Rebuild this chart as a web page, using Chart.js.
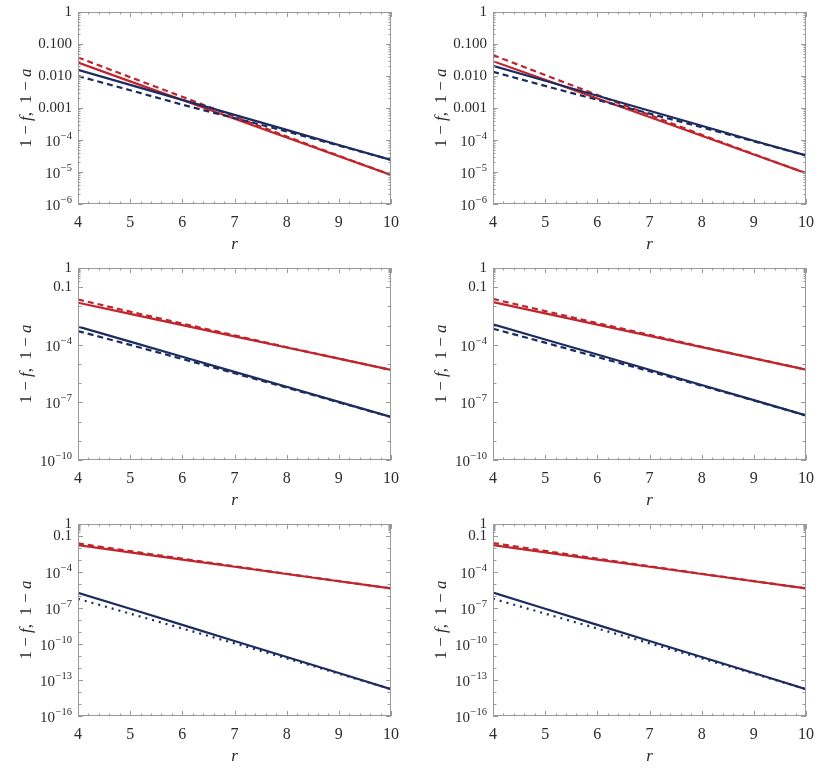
<!DOCTYPE html>
<html>
<head>
<meta charset="utf-8">
<script src="https://cdn.jsdelivr.net/npm/chart.js@4.4.1/dist/chart.umd.min.js"></script>
<style>
  body { margin: 0; background: #fff; }
  .panel { position: absolute; width: 415px; height: 257px; }
</style>
</head>
<body>
<div class="panel" style="left:0;top:0"><canvas id="c1" width="415" height="257"></canvas></div>
<div class="panel" style="left:415px;top:0"><canvas id="c2" width="415" height="257"></canvas></div>
<div class="panel" style="left:0;top:256px"><canvas id="c3" width="415" height="257"></canvas></div>
<div class="panel" style="left:415px;top:256px"><canvas id="c4" width="415" height="257"></canvas></div>
<div class="panel" style="left:0;top:512px"><canvas id="c5" width="415" height="257"></canvas></div>
<div class="panel" style="left:415px;top:512px"><canvas id="c6" width="415" height="257"></canvas></div>
<script>
var rValues = [4, 5, 6, 7, 8, 9, 10];
var xTickValues = [4, 5, 6, 7, 8, 9, 10];

// y tick values + labels, one set per row
var yTicksTop = [1, 0.1, 0.01, 0.001, 1e-4, 1e-5, 1e-6];
var yLabelsTop = ['1', '0.100', '0.010', '0.001', '10^-4', '10^-5', '10^-6'];
var yTicksMid = [1, 0.1, 1e-4, 1e-7, 1e-10];
var yLabelsMid = ['1', '0.1', '10^-4', '10^-7', '10^-10'];
var yTicksBot = [1, 0.1, 1e-4, 1e-7, 1e-10, 1e-13, 1e-16];
var yLabelsBot = ['1', '0.1', '10^-4', '10^-7', '10^-10', '10^-13', '10^-16'];

// panel 1 (top left)
var p1RedSolid   = [0.0263, 6.8e-3, 1.78e-3, 4.6e-4, 1.2e-4, 3.1e-5, 8.1e-6];
var p1RedDashed  = [0.038, 9.2e-3, 2.24e-3, 5.4e-4, 1.29e-4, 3.2e-5, 8.1e-6];
var p1BlueSolid  = [0.0156, 5.3e-3, 1.8e-3, 6.1e-4, 2.07e-4, 7.0e-5, 2.4e-5];
var p1BlueDashed = [0.010, 3.6e-3, 1.27e-3, 4.85e-4, 1.85e-4, 6.7e-5, 2.4e-5];

// panel 2 (top right)
var p2RedSolid   = [0.029, 7.6e-3, 1.98e-3, 5.2e-4, 1.35e-4, 3.5e-5, 9.2e-6];
var p2RedDashed  = [0.045, 0.0107, 2.55e-3, 6.1e-4, 1.45e-4, 3.6e-5, 9.2e-6];
var p2BlueSolid  = [0.0209, 7.1e-3, 2.42e-3, 8.2e-4, 2.8e-4, 9.5e-5, 3.3e-5];
var p2BlueDashed = [0.0135, 4.9e-3, 1.8e-3, 6.7e-4, 2.5e-4, 9.1e-5, 3.3e-5];

// panel 3 (middle left)
var p3RedSolid   = [0.0155, 4.05e-3, 1.05e-3, 2.75e-4, 7.2e-5, 1.9e-5, 4.9e-6];
var p3RedDashed  = [0.0229, 5.3e-3, 1.27e-3, 3.1e-4, 7.5e-5, 1.92e-5, 4.9e-6];
var p3BlueSolid  = [8.9e-4, 1.46e-4, 2.4e-5, 3.9e-6, 6.5e-7, 1.06e-7, 1.74e-8];
var p3BlueDashed = [5.2e-4, 9.9e-5, 1.82e-5, 3.3e-6, 5.9e-7, 1.01e-7, 1.74e-8];

// panel 4 (middle right)
var p4RedSolid   = [0.0166, 4.3e-3, 1.12e-3, 2.9e-4, 7.6e-5, 1.97e-5, 5.1e-6];
var p4RedDashed  = [0.0245, 5.7e-3, 1.35e-3, 3.3e-4, 7.9e-5, 2.0e-5, 5.1e-6];
var p4BlueSolid  = [1.17e-3, 1.9e-4, 3.1e-5, 5.0e-6, 8.1e-7, 1.32e-7, 2.1e-8];
var p4BlueDashed = [6.9e-4, 1.29e-4, 2.3e-5, 4.2e-6, 7.4e-7, 1.26e-7, 2.1e-8];

// panel 5 (bottom left)
var p5RedSolid   = [0.0174, 4.35e-3, 1.09e-3, 2.72e-4, 6.8e-5, 1.7e-5, 4.3e-6];
var p5RedDashed  = [0.024, 5.5e-3, 1.28e-3, 3.0e-4, 7.1e-5, 1.75e-5, 4.3e-6];
var p5BlueSolid  = [1.86e-6, 8.6e-8, 3.9e-9, 1.8e-10, 8.3e-12, 3.8e-13, 1.74e-14];
var p5BlueDotted = [5.8e-7, 3.4e-8, 1.96e-9, 1.14e-10, 6.3e-12, 3.4e-13, 1.74e-14];

// panel 6 (bottom right)
var p6RedSolid   = [0.0174, 4.35e-3, 1.09e-3, 2.72e-4, 6.8e-5, 1.7e-5, 4.3e-6];
var p6RedDashed  = [0.026, 5.7e-3, 1.3e-3, 3.0e-4, 7.1e-5, 1.75e-5, 4.3e-6];
var p6BlueSolid  = [1.9e-6, 8.7e-8, 3.95e-9, 1.8e-10, 8.3e-12, 3.8e-13, 1.74e-14];
var p6BlueDotted = [5.9e-7, 3.4e-8, 1.96e-9, 1.14e-10, 6.3e-12, 3.4e-13, 1.74e-14];

var RED = 'rgb(192,36,44)';
var BLUE = 'rgb(28,44,94)';
var FRAME = '#999999';
var TEXT = '#2b2b2b';
var SERIF = '"Liberation Serif", "DejaVu Serif", serif';

function pts(ys) {
  return rValues.map(function (r, i) { return { x: r, y: ys[i] }; });
}

// frame with inward ticks on all four sides, y labels and y title
var frameTicks = {
  id: 'frameTicks',
  afterDatasetsDraw: function (chart, args, o) {
    var ctx = chart.ctx, a = chart.chartArea;
    var xs = chart.scales.x, ys = chart.scales.y;
    ctx.save();
    ctx.strokeStyle = FRAME;
    ctx.lineWidth = 1;
    ctx.strokeRect(Math.round(a.left) + 0.5, Math.round(a.top) + 0.5,
      Math.round(a.right - a.left) - 1, Math.round(a.bottom - a.top) - 1);

    ctx.beginPath();
    // x ticks: integers + 0.2 minor
    for (var k = 0; k <= 30; k++) {
      var v = 4 + k * 0.2;
      var px = Math.round(xs.getPixelForValue(v)) + 0.5;
      var len = (k % 5 === 0) ? 5 : 2.5;
      ctx.moveTo(px, a.bottom); ctx.lineTo(px, a.bottom - len);
      ctx.moveTo(px, a.top); ctx.lineTo(px, a.top + len);
    }
    // y ticks
    for (var d = 0; d <= o.decades; d++) {
      var dv = Math.pow(10, -d);
      var labeled = o.ticks.some(function (t) { return Math.abs(Math.log10(t) + d) < 1e-9; });
      var py = Math.round(ys.getPixelForValue(dv)) + 0.5;
      var l = labeled ? 5 : 3.5;
      ctx.moveTo(a.left, py); ctx.lineTo(a.left + l, py);
      ctx.moveTo(a.right, py); ctx.lineTo(a.right - l, py);
      if (d < o.decades && (o.minorAll || d === 0)) {
        for (var m = 2; m <= 9; m++) {
          var mv = m * Math.pow(10, -d - 1);
          var mp = Math.round(ys.getPixelForValue(mv)) + 0.5;
          ctx.moveTo(a.left, mp); ctx.lineTo(a.left + 2.5, mp);
          ctx.moveTo(a.right, mp); ctx.lineTo(a.right - 2.5, mp);
        }
      }
    }
    ctx.stroke();

    // y tick labels
    ctx.fillStyle = TEXT;
    ctx.textBaseline = 'middle';
    o.ticks.forEach(function (t, i) {
      var lab = o.labels[i];
      var py = ys.getPixelForValue(t);
      var xr = a.left - 6;
      if (lab.indexOf('^') > 0) {
        var parts = lab.split('^');
        var exp = parts[1].replace('-', '\u2212');
        ctx.font = '10.5px ' + SERIF;
        var we = ctx.measureText(exp).width;
        ctx.textAlign = 'left';
        ctx.fillText(exp, xr - we, py - 4);
        ctx.font = '15px ' + SERIF;
        var wb = ctx.measureText(parts[0]).width;
        ctx.fillText(parts[0], xr - we - wb - 0.5, py + 2);
      } else {
        ctx.font = '15px ' + SERIF;
        ctx.textAlign = 'right';
        ctx.fillText(lab, xr, py);
      }
    });

    // y axis title "1 − f, 1 − a"
    var segs = [['1 \u2212 ', false], ['f', true], [',  1 \u2212 ', false], ['a', true]];
    ctx.translate(27, (a.top + a.bottom) / 2);
    ctx.rotate(-Math.PI / 2);
    var total = 0;
    segs.forEach(function (s) {
      ctx.font = (s[1] ? 'italic ' : '') + '17px ' + SERIF;
      total += ctx.measureText(s[0]).width;
    });
    var cx = -total / 2;
    ctx.textAlign = 'left';
    segs.forEach(function (s) {
      ctx.font = (s[1] ? 'italic ' : '') + '17px ' + SERIF;
      ctx.fillText(s[0], cx, 0);
      cx += ctx.measureText(s[0]).width;
    });
    ctx.restore();
  }
};

var panels = [
  { id: 'c1', decades: 6, ticks: yTicksTop, labels: yLabelsTop, minorAll: true,
    red: [p1RedSolid, p1RedDashed], blue: [p1BlueSolid, p1BlueDashed], blueDash: [6, 4] },
  { id: 'c2', decades: 6, ticks: yTicksTop, labels: yLabelsTop, minorAll: true,
    red: [p2RedSolid, p2RedDashed], blue: [p2BlueSolid, p2BlueDashed], blueDash: [6, 4] },
  { id: 'c3', decades: 10, ticks: yTicksMid, labels: yLabelsMid, minorAll: false,
    red: [p3RedSolid, p3RedDashed], blue: [p3BlueSolid, p3BlueDashed], blueDash: [6, 4] },
  { id: 'c4', decades: 10, ticks: yTicksMid, labels: yLabelsMid, minorAll: false,
    red: [p4RedSolid, p4RedDashed], blue: [p4BlueSolid, p4BlueDashed], blueDash: [6, 4] },
  { id: 'c5', decades: 16, ticks: yTicksBot, labels: yLabelsBot, minorAll: false,
    red: [p5RedSolid, p5RedDashed], blue: [p5BlueSolid, p5BlueDotted], blueDash: [2, 5] },
  { id: 'c6', decades: 16, ticks: yTicksBot, labels: yLabelsBot, minorAll: false,
    red: [p6RedSolid, p6RedDashed], blue: [p6BlueSolid, p6BlueDotted], blueDash: [2, 5] }
];

panels.forEach(function (p) {
  var line = function (ys, color, dash) {
    return { data: pts(ys), borderColor: color, borderWidth: 2.2, borderDash: dash || [],
      pointRadius: 0, tension: 0, fill: false };
  };
  new Chart(document.getElementById(p.id), {
    type: 'line',
    data: {
      datasets: [
        line(p.blue[0], BLUE), line(p.blue[1], BLUE, p.blueDash),
        line(p.red[0], RED), line(p.red[1], RED, [6, 4])
      ]
    },
    options: {
      responsive: false,
      animation: false,
      layout: { padding: { left: 0, top: 12, right: 24, bottom: 0 } },
      plugins: { legend: { display: false }, tooltip: { enabled: false },
        frameTicks: { decades: p.decades, ticks: p.ticks, labels: p.labels, minorAll: p.minorAll } },
      scales: {
        x: {
          type: 'linear', min: 4, max: 10,
          grid: { display: false, drawTicks: false },
          border: { display: false },
          afterBuildTicks: function (s) { s.ticks = xTickValues.map(function (v) { return { value: v }; }); },
          afterFit: function (s) { s.height = 53; },
          ticks: { color: TEXT, font: { family: SERIF, size: 16 }, padding: 9, maxRotation: 0 },
          title: { display: true, text: 'r', color: TEXT, padding: { top: 0, bottom: 2 },
            font: { family: SERIF, size: 17, style: 'italic' } }
        },
        y: {
          type: 'logarithmic', min: Math.pow(10, -p.decades), max: 1,
          grid: { display: false, drawTicks: false },
          border: { display: false },
          ticks: { display: false },
          afterFit: function (s) { s.width = 78; }
        }
      }
    },
    plugins: [frameTicks]
  });
});
</script>
</body>
</html>
